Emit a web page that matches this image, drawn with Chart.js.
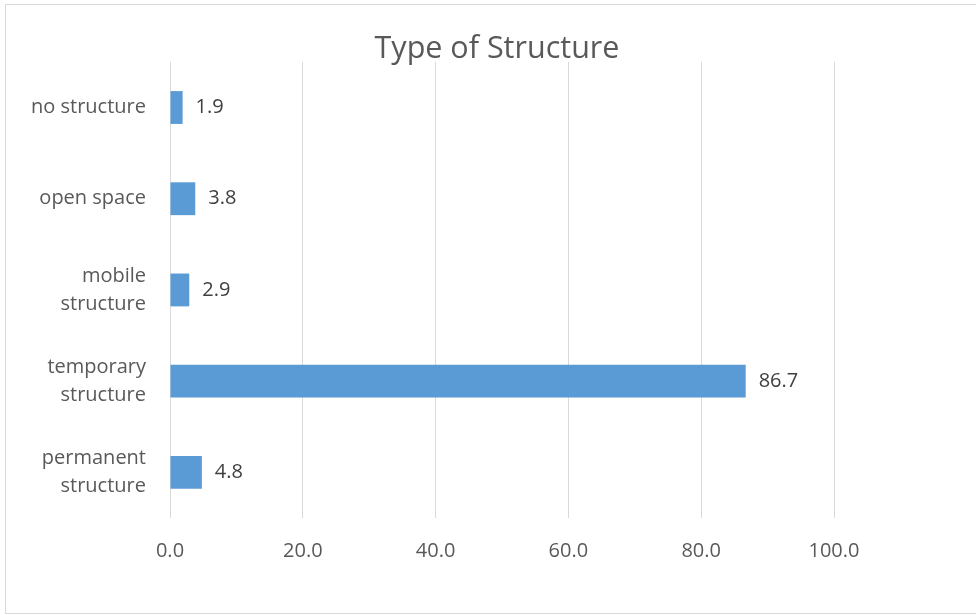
<!DOCTYPE html>
<html>
<head>
<meta charset="utf-8">
<title>Type of Structure</title>
<script src="https://cdn.jsdelivr.net/npm/chart.js@4.4.0/dist/chart.umd.min.js"></script>
<style>
  html, body { margin: 0; padding: 0; background: #ffffff; overflow: hidden; }
  .frame {
    position: absolute; left: 5px; top: 4px;
    width: 990px; height: 608px;
    border: 1px solid #d9d9d9;
  }
  #wrap { position: absolute; left: 0; top: 0; width: 976px; height: 615px; }
</style>
</head>
<body>
<div class="frame"></div>
<div id="wrap"><canvas id="structureChart"></canvas></div>
<script>
// values (percent)
const categories = [
  'no structure',
  'open space',
  ['mobile', 'structure'],
  ['temporary', 'structure'],
  ['permanent', 'structure'],
];
const shares = [1.9, 3.8, 2.9, 86.7, 4.8];
const xTicks = [0, 20, 40, 60, 80, 100];

const FONT = '"Open Sans", "DejaVu Sans", sans-serif';
const GREY = '#595959';

// value labels at the end of each bar
const barValueLabels = {
  id: 'barValueLabels',
  afterDatasetsDraw(chart) {
    const ctx = chart.ctx;
    const meta = chart.getDatasetMeta(0);
    ctx.save();
    ctx.font = '20px ' + FONT;
    ctx.fillStyle = '#404040';
    ctx.textAlign = 'left';
    ctx.textBaseline = 'middle';
    meta.data.forEach((bar, i) => {
      ctx.fillText(shares[i].toFixed(1), bar.x + 13, bar.y);
    });
    ctx.restore();
  }
};

const ctx = document.getElementById('structureChart').getContext('2d');
new Chart(ctx, {
  type: 'bar',
  data: {
    labels: categories,
    datasets: [{
      label: 'Type of Structure',
      data: shares,
      backgroundColor: '#5b9bd5',
      borderWidth: 0,
      barPercentage: 0.36,
      categoryPercentage: 1,
      yAxisID: 'y',
    }],
  },
  options: {
    indexAxis: 'y',
    responsive: true,
    maintainAspectRatio: false,
    animation: false,
    layout: { padding: { left: 18, right: 0, top: 0, bottom: 31 } },
    plugins: {
      legend: { display: false },
      tooltip: { enabled: false },
      title: {
        display: true,
        text: 'Type of Structure',
        color: GREY,
        font: { family: FONT, size: 30.5, weight: 'normal', lineHeight: 0.8 },
        padding: { top: 37, bottom: 0.5 },
      },
    },
    scales: {
      x: {
        min: 0,
        max: 100,
        afterBuildTicks: axis => { axis.ticks = xTicks.map(v => ({ value: v })); },
        grid: { color: '#d9d9d9', drawTicks: false },
        border: { display: false },
        ticks: {
          color: GREY,
          padding: 21,
          font: { family: FONT, size: 20 },
          callback: v => Number(v).toFixed(1),
        },
      },
      y: {
        position: 'left',
        grid: { display: false, drawTicks: false },
        border: { display: false },
        afterFit: axis => { axis.width = 152; },
        ticks: {
          color: GREY,
          padding: 24,
          font: { family: FONT, size: 20, lineHeight: 1.4 },
        },
      },
      // empty right-hand box that keeps the plot area at the reference width
      y2: {
        position: 'right',
        grid: { display: false, drawTicks: false },
        border: { display: false },
        ticks: { display: false },
        afterFit: axis => { axis.width = 142; },
      },
    },
  },
  plugins: [barValueLabels],
});
</script>
</body>
</html>
